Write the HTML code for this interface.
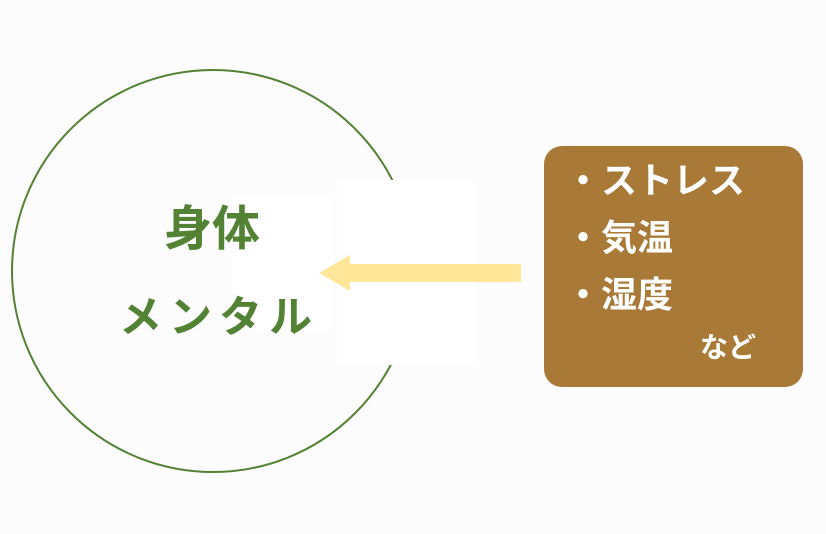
<!DOCTYPE html>
<html><head><meta charset="utf-8"><style>
body{margin:0;background:#fcfcfc;width:826px;height:534px;overflow:hidden;position:relative;font-family:"Liberation Sans","Noto Sans CJK JP",sans-serif;font-weight:bold}
.a{position:absolute}
</style></head><body>
<svg class="a" style="left:0;top:0" width="826" height="534">
<circle cx="213" cy="271" r="201" fill="none" stroke="#548235" stroke-width="2"/>
<rect x="337" y="180" width="138" height="185" fill="#fff"/>
<rect x="232" y="196" width="100" height="134" fill="#fff"/>
<polygon points="521,264 350,264 350,255 319,273 350,291 350,282 521,282" fill="#ffe699"/>
<rect x="544" y="146" width="259" height="241" rx="18" fill="#a97a37"/>
</svg>
<div class="a" style="left:112px;top:200px;width:200px;text-align:center;font-size:48px;color:#548235;line-height:60px">身体</div>
<div class="a" style="left:104px;top:290px;width:230px;text-align:center;font-size:43px;letter-spacing:7px;color:#548235;line-height:56px">メンタル</div>
<div class="a" style="left:565px;top:152px;font-size:36px;color:#fff;line-height:57px">・ストレス<br>・気温<br>・湿度</div>
<div class="a" style="left:700px;top:329px;font-size:28px;color:#fff;line-height:38px">など</div>
</body></html>
